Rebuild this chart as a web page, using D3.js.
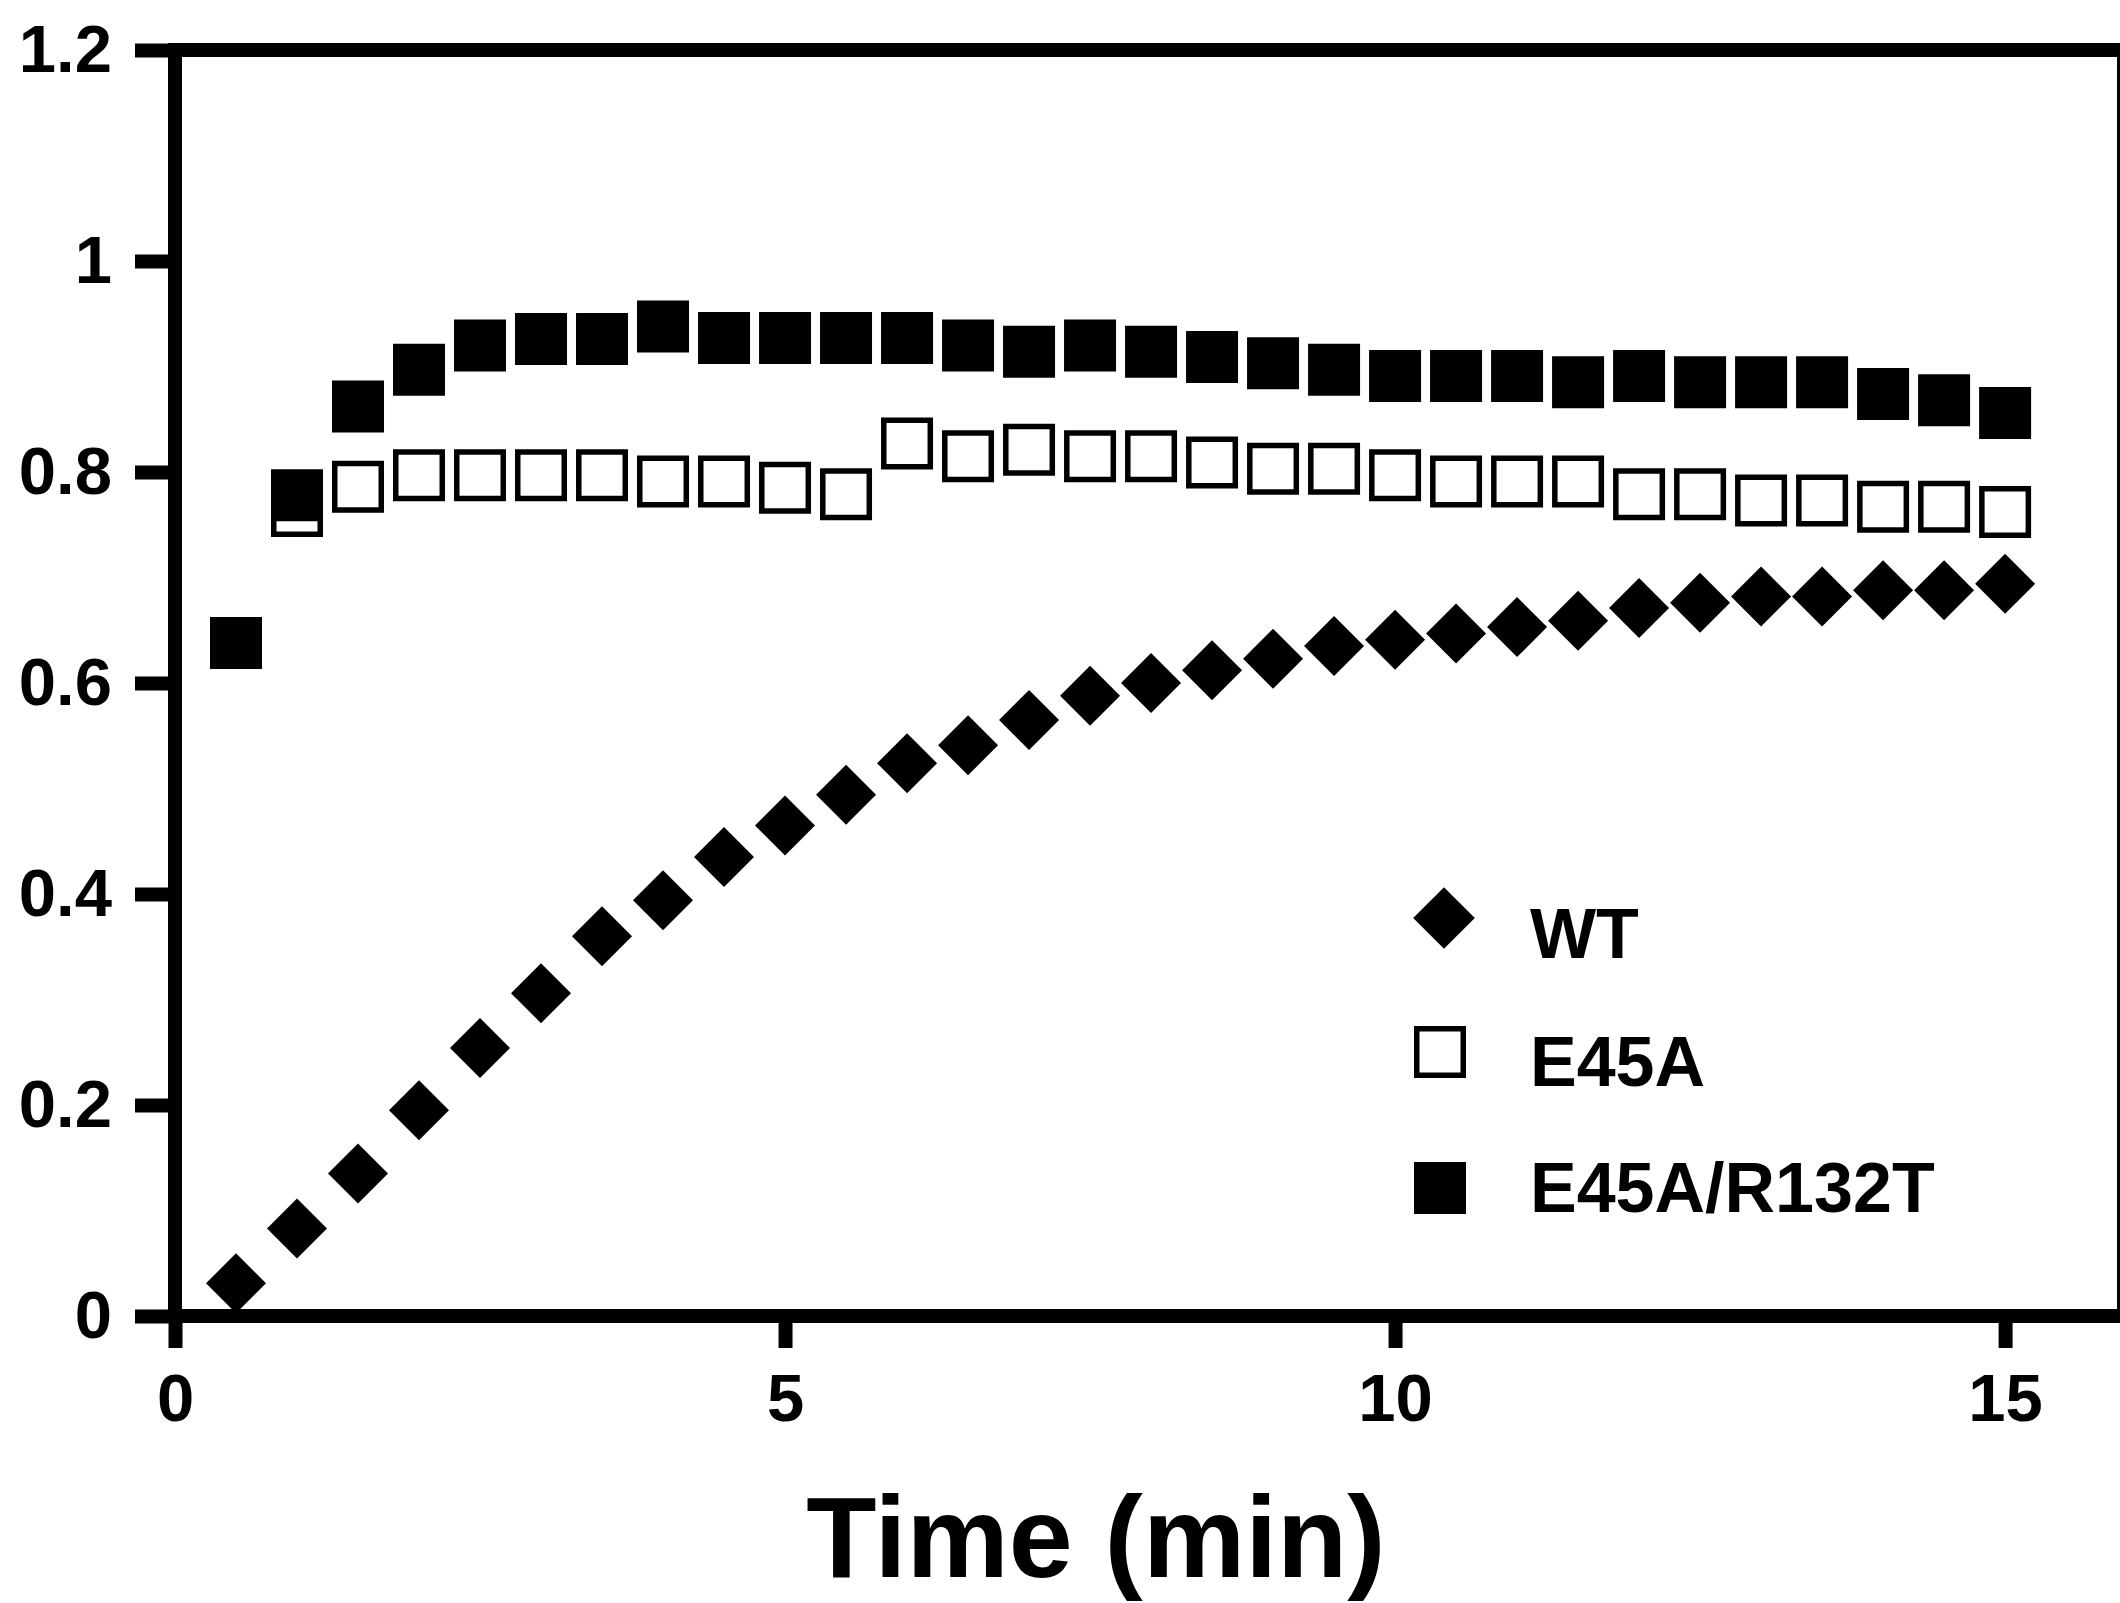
<!DOCTYPE html>
<html>
<head>
<meta charset="utf-8">
<script src="https://cdn.jsdelivr.net/npm/d3@7"></script>
<style>
  body { margin: 0; background: #fff; }
  text { font-family: "Liberation Sans", Arial, Helvetica, sans-serif; font-weight: bold; fill: #000; }
</style>
</head>
<body>
<div id="chart"></div>
<script>
// time points (min)
const time = [0.5, 1, 1.5, 2, 2.5, 3, 3.5, 4, 4.5, 5, 5.5, 6, 6.5, 7, 7.5,
              8, 8.5, 9, 9.5, 10, 10.5, 11, 11.5, 12, 12.5, 13, 13.5, 14, 14.5, 15]

// series values
const wt = [0.031, 0.083, 0.135, 0.195, 0.254, 0.306, 0.360, 0.394, 0.435, 0.465,
            0.494, 0.524, 0.541, 0.565, 0.588, 0.600, 0.612, 0.623, 0.635, 0.641,
            0.647, 0.653, 0.659, 0.671, 0.676, 0.682, 0.682, 0.688, 0.688, 0.694]
const e45a = [null, 0.763, 0.786, 0.797, 0.797, 0.797, 0.797, 0.791, 0.791, 0.785,
              0.779, 0.827, 0.815, 0.821, 0.815, 0.815, 0.809, 0.803, 0.803, 0.797,
              0.791, 0.791, 0.791, 0.779, 0.779, 0.773, 0.773, 0.767, 0.767, 0.762]
const e45aR132t = [0.638, 0.778, 0.862, 0.897, 0.920, 0.926, 0.926, 0.938, 0.927, 0.927,
                   0.927, 0.927, 0.920, 0.914, 0.920, 0.914, 0.909, 0.903, 0.897, 0.891,
                   0.891, 0.891, 0.885, 0.891, 0.885, 0.885, 0.885, 0.874, 0.868, 0.856]

const seriesNames = ["WT", "E45A", "E45A/R132T"]
const xTicks = [0, 5, 10, 15]
const yTicks = [0, 0.2, 0.4, 0.6, 0.8, 1, 1.2]

const W = 2120, H = 1603
const svg = d3.select("#chart").append("svg")
    .attr("width", W)
    .attr("height", H)

const x = d3.scaleLinear().domain([0, 15.95]).range([175, 2121])
const y = d3.scaleLinear().domain([0, 1.2]).range([1316, 50])

const axisW = 14

// y axis
const yAxis = svg.append("g")
    .attr("transform", "translate(" + x(0) + ",0)")
    .call(d3.axisLeft(y).tickValues(yTicks).tickSize(40).tickSizeOuter(0)
        .tickPadding(23).tickFormat(d3.format("~g")))
yAxis.select(".domain").remove()
yAxis.selectAll("line").attr("stroke", "#000").attr("stroke-width", axisW)
yAxis.selectAll("text").style("font-size", "67px").attr("fill", "#000")

// x axis
const xAxis = svg.append("g")
    .attr("transform", "translate(0," + y(0) + ")")
    .call(d3.axisBottom(x).tickValues(xTicks).tickSize(32).tickSizeOuter(0)
        .tickPadding(25).tickFormat(d3.format("d")))
xAxis.select(".domain").remove()
xAxis.selectAll("line").attr("stroke", "#000").attr("stroke-width", axisW)
xAxis.selectAll("text").style("font-size", "67px").attr("fill", "#000")

// frame
const x0 = x(0), x1 = x(15.95) + 3, y0 = y(0), y1 = y(1.2)
const frame = [
    [x0, y0 + axisW / 2, x0, y1 - axisW / 2],
    [x0, y0, x1, y0],
    [x0, y1, x1, y1],
    [x1, y0, x1, y1]
]
svg.append("g").selectAll("line").data(frame).enter().append("line")
    .attr("x1", d => d[0]).attr("y1", d => d[1])
    .attr("x2", d => d[2]).attr("y2", d => d[3])
    .attr("stroke", "#000").attr("stroke-width", axisW)

// axis title
svg.append("text")
    .attr("x", 1096)
    .attr("y", 1577)
    .attr("text-anchor", "middle")
    .style("font-size", "115px")
    .text("Time (min)")

// markers
const diamond = d3.symbol().type(d3.symbolSquare).size(1800)
const openSq = d3.symbol().type(d3.symbolSquare).size(46.5 * 46.5)
const fillSq = d3.symbol().type(d3.symbolSquare).size(52 * 52)

const pts = (vals) => time.map((t, i) => ({ t: t, v: vals[i] })).filter(d => d.v != null)

svg.append("g").selectAll("path").data(pts(wt)).enter().append("path")
    .attr("d", diamond)
    .attr("transform", d => "translate(" + x(d.t) + "," + y(d.v) + ") rotate(45)")
    .attr("fill", "#000")

svg.append("g").selectAll("path").data(pts(e45a)).enter().append("path")
    .attr("d", openSq)
    .attr("transform", d => "translate(" + x(d.t) + "," + y(d.v) + ")")
    .attr("fill", "#fff")
    .attr("stroke", "#000")
    .attr("stroke-width", 5.5)

svg.append("g").selectAll("path").data(pts(e45aR132t)).enter().append("path")
    .attr("d", fillSq)
    .attr("transform", d => "translate(" + x(d.t) + "," + y(d.v) + ")")
    .attr("fill", "#000")

// legend
const legend = svg.append("g")
const lg = [
    { name: seriesNames[0], mx: 1444, my: 918, ty: 958 },
    { name: seriesNames[1], mx: 1440, my: 1052, ty: 1086 },
    { name: seriesNames[2], mx: 1440, my: 1188, ty: 1212 }
]
legend.append("path").attr("d", d3.symbol().type(d3.symbolSquare).size(1900))
    .attr("transform", "translate(" + lg[0].mx + "," + lg[0].my + ") rotate(45)")
    .attr("fill", "#000")
legend.append("path").attr("d", openSq)
    .attr("transform", "translate(" + lg[1].mx + "," + lg[1].my + ")")
    .attr("fill", "#fff").attr("stroke", "#000").attr("stroke-width", 5.5)
legend.append("path").attr("d", fillSq)
    .attr("transform", "translate(" + lg[2].mx + "," + lg[2].my + ")")
    .attr("fill", "#000")
legend.selectAll("text").data(lg).enter().append("text")
    .attr("x", 1530)
    .attr("y", d => d.ty)
    .style("font-size", "70px")
    .text(d => d.name)
</script>
</body>
</html>
